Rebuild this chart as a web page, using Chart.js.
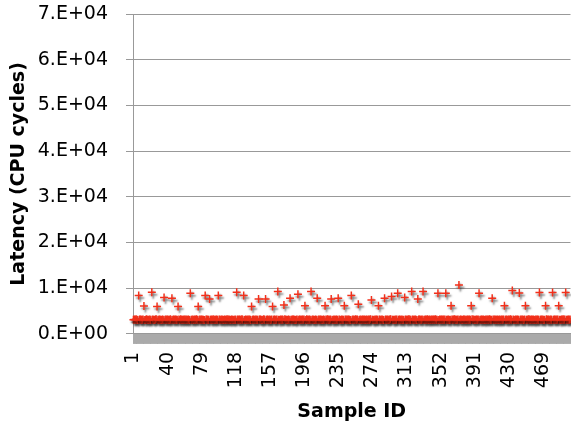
<!DOCTYPE html>
<html>
<head>
<meta charset="utf-8">
<script src="https://cdn.jsdelivr.net/npm/chart.js@4"></script>
<style>
  html, body { margin: 0; background: #fff; overflow: hidden; }
  #wrap { width: 576px; height: 429px; }
</style>
</head>
<body>
<div id="wrap"><canvas id="chart"></canvas></div>
<script>
// Latencia por muestra (ciclos de CPU), 500 muestras
const latency = [
    3100, 3150, 3080, 3200, 3120, 3060, 8390, 3140, 3180, 3090, 3110, 3160, 6120, 3070, 3130, 3190, 3100, 3050, 3150, 3120,
    3090, 9120, 3170, 3110, 3060, 3140, 3200, 6000, 3080, 3130, 3150, 3100, 3070, 3180, 3120, 7950, 3090, 3160, 3110, 3140,
    3100, 3060, 3190, 3130, 7800, 3080, 3150, 3120, 3170, 3090, 3110, 6000, 3140, 3060, 3200, 3100, 3130, 3080, 3160, 3120,
    3150, 3090, 3110, 3180, 3070, 8900, 3130, 3100, 3160, 3050, 3140, 3120, 3190, 3080, 6000, 3110, 3150, 3100, 3170, 3090,
    3130, 3060, 8390, 3140, 3180, 3100, 3120, 7650, 3090, 3150, 3070, 3200, 3110, 3130, 3080, 3160, 3100, 8390, 3140, 3120,
    3090, 3170, 3110, 3060, 3150, 3130, 3080, 3190, 3100, 3140, 3120, 3070, 3160, 3100, 3130, 3050, 3180, 3110, 9120, 3140,
    3100, 3160, 3080, 3130, 3190, 3110, 8390, 3070, 3150, 3120, 3090, 3170, 3100, 3140, 3060, 6000, 3130, 3180, 3110, 3080,
    3150, 3120, 3090, 7650, 3140, 3170, 3100, 3060, 3130, 3190, 3110, 7650, 3080, 3150, 3120, 3100, 3160, 3070, 3140, 6000,
    3110, 3180, 3090, 3130, 3150, 9300, 3100, 3070, 3160, 3120, 3140, 3080, 6340, 3190, 3110, 3130, 3060, 3150, 3100, 7800,
    3120, 3090, 3170, 3140, 3100, 3060, 3130, 3180, 8680, 3110, 3150, 3080, 3120, 3160, 3100, 3140, 6190, 3070, 3190, 3130,
    3100, 3150, 3080, 9270, 3120, 3170, 3110, 3060, 3140, 3130, 7800, 3090, 3180, 3100, 3150, 3120, 3070, 3160, 3110, 6190,
    3140, 3100, 3190, 3080, 3130, 3150, 7650, 3110, 3060, 3170, 3120, 3100, 3140, 3090, 7800, 3160, 3130, 3070, 3180, 3110,
    3120, 6190, 3150, 3090, 3140, 3100, 3170, 3130, 3060, 8390, 3110, 3160, 3080, 3120, 3190, 3100, 3140, 6480, 3070, 3150,
    3130, 3090, 3160, 3110, 3180, 3070, 3140, 3120, 3100, 3150, 3080, 3190, 7440, 3110, 3130, 3060, 3170, 3100, 3140, 3120,
    6190, 3150, 3090, 3130, 3180, 3100, 3060, 7800, 3140, 3120, 3170, 3080, 3110, 3150, 3190, 8170, 3100, 3130, 3070, 3160,
    3110, 3140, 8900, 3090, 3180, 3120, 3100, 3150, 3060, 3130, 7950, 3170, 3110, 3080, 3140, 3190, 3100, 3120, 9270, 3150,
    3090, 3130, 3170, 3110, 3060, 7650, 3140, 3180, 3100, 3120, 3150, 9270, 3080, 3130, 3160, 3110, 3190, 3070, 3140, 3100,
    3120, 3160, 3080, 3140, 3110, 3190, 3100, 3130, 8900, 3060, 3150, 3120, 3170, 3090, 3140, 3110, 3180, 8900, 3100, 3130,
    3150, 3070, 3120, 6190, 3160, 3100, 3140, 3190, 3080, 3130, 3110, 3170, 10700, 3090, 3150, 3120, 3060, 3140, 3180, 3100,
    3130, 3110, 3160, 3080, 3150, 3120, 6190, 3190, 3100, 3140, 3070, 3130, 3170, 3110, 3150, 8900, 3090, 3120, 3180, 3100,
    3140, 3060, 3130, 3170, 3110, 3150, 3090, 3190, 3120, 3100, 7800, 3140, 3080, 3160, 3130, 3110, 3180, 3070, 3150, 3120,
    3100, 3160, 3090, 3140, 6190, 3120, 3170, 3080, 3130, 3150, 3110, 3190, 3100, 9490, 3140, 3060, 3130, 3170, 3110, 3150,
    3090, 8970, 3120, 3180, 3100, 3140, 3070, 3160, 6190, 3130, 3110, 3150, 3190, 3080, 3120, 3140, 3100, 3170, 3060, 3130,
    3150, 3110, 3180, 3090, 9050, 3130, 3160, 3100, 3140, 3070, 3120, 6190, 3190, 3110, 3150, 3080, 3130, 3170, 3100, 9050,
    3120, 3140, 3090, 3160, 3110, 3180, 6190, 3130, 3070, 3150, 3100, 3190, 3120, 3140, 9050, 3080, 3130, 3160, 3110, 3150
];

// Identificadores de muestra (1..N)
const sampleIds = latency.map((_, i) => i + 1);

// Cada cuántas muestras se muestra una etiqueta en el eje X
const labelStep = 39;

// Valores del eje Y
const yMin = 0;
const yMax = 70000;
const yStep = 10000;

// Formato tipo Excel: 7.E+04
function sciLabel(v) {
    if (v === 0) return '0.E+00';
    const exp = Math.floor(Math.log10(v));
    const mant = Math.round(v / Math.pow(10, exp));
    return mant + '.E+' + String(exp).padStart(2, '0');
}

// Sombra gris de los marcadores
const shadowPlugin = {
    id: 'markerShadow',
    beforeDatasetsDraw(chart) {
        const ctx = chart.ctx;
        ctx.save();
        ctx.shadowColor = 'rgba(0, 0, 0, 0.55)';
        ctx.shadowOffsetX = 1.5;
        ctx.shadowOffsetY = 2.5;
        ctx.shadowBlur = 2;
    },
    afterDatasetsDraw(chart) {
        chart.ctx.restore();
    }
};

const gridGray = '#999999';

new Chart(document.getElementById('chart').getContext('2d'), {
    type: 'line',
    data: {
        labels: sampleIds,
        datasets: [{
            data: latency,
            showLine: false,
            pointStyle: 'cross',
            pointRadius: 4,
            pointBorderWidth: 1.5,
            pointBorderColor: '#f2301b',
            pointBackgroundColor: '#f2301b'
        }]
    },
    options: {
        responsive: true,
        maintainAspectRatio: false,
        animation: false,
        layout: { padding: { left: 4, top: 14, right: 0, bottom: 6 } },
        plugins: {
            legend: { display: false },
            tooltip: { enabled: false }
        },
        scales: {
            x: {
                offset: true,
                afterFit(scale) {
                    scale.paddingLeft = 0;
                    scale.paddingRight = 0;
                },
                grid: {
                    display: true,
                    drawOnChartArea: false,
                    drawTicks: true,
                    tickLength: 10,
                    color: '#aaaaaa',
                    offset: false
                },
                border: { display: true, color: gridGray },
                ticks: {
                    autoSkip: false,
                    maxRotation: 90,
                    minRotation: 90,
                    padding: 8,
                    color: '#000',
                    font: { family: 'DejaVu Sans', size: 19 },
                    callback: function (val, i) {
                        return i % labelStep === 0 ? this.getLabelForValue(val) : '';
                    }
                },
                title: {
                    display: true,
                    text: 'Sample ID',
                    color: '#000',
                    font: { family: 'DejaVu Sans', size: 19, weight: 'bold' },
                    padding: { top: 4, bottom: 0 }
                }
            },
            y: {
                min: yMin,
                max: yMax,
                afterFit(scale) {
                    scale.width = 129;
                    scale.paddingTop = 0;
                    scale.paddingBottom = 0;
                },
                grid: {
                    color: gridGray,
                    tickLength: 7
                },
                border: { display: true, color: gridGray },
                ticks: {
                    stepSize: yStep,
                    padding: 18,
                    color: '#000',
                    font: { family: 'DejaVu Sans', size: 19 },
                    callback: v => sciLabel(v)
                },
                title: {
                    display: true,
                    text: 'Latency (CPU cycles)',
                    color: '#000',
                    font: { family: 'DejaVu Sans', size: 19, weight: 'bold' },
                    padding: { top: 4, bottom: 4 }
                }
            }
        }
    },
    plugins: [shadowPlugin]
});
</script>
</body>
</html>
